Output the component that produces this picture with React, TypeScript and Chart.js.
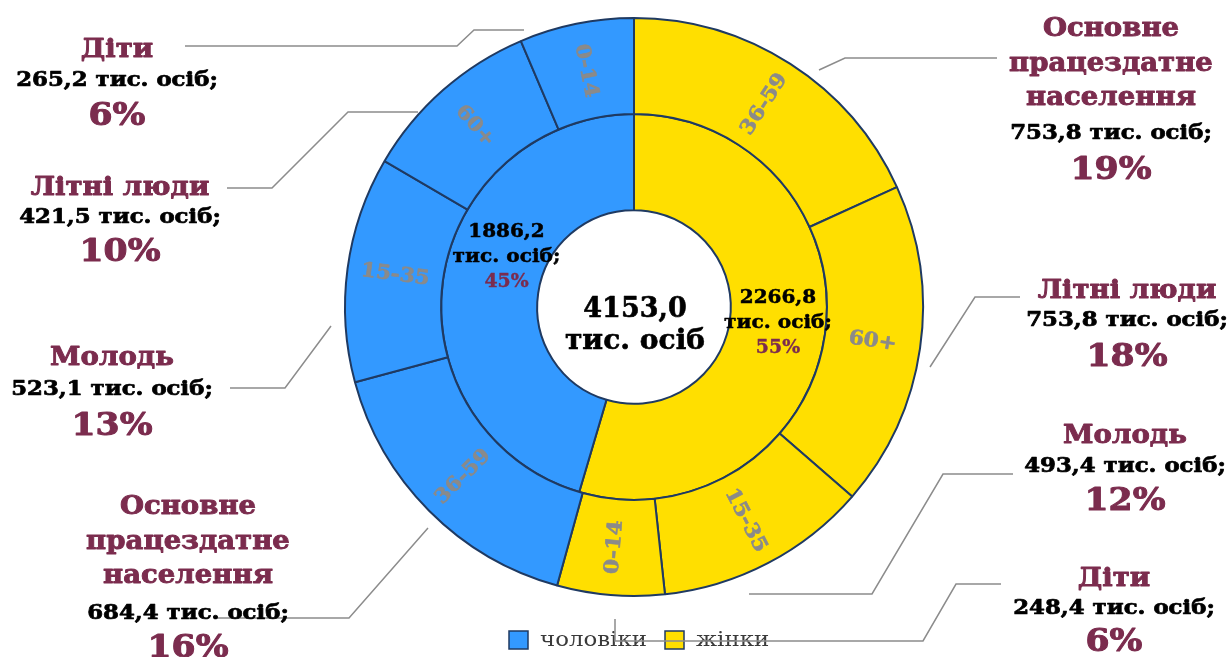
import React, { useEffect, useRef } from 'react';
import { Chart, registerables } from 'chart.js';

Chart.register(...registerables);

// ---------- data ----------
const sexLabels = ['жінки', 'чоловіки'];
const innerValues = [2266.8, 1886.2];
const innerPercents = ['55%', '45%'];
const totalValue = 4153.0;

const ageGroups = ['36-59', '60+', '15-35', '0-14', '36-59', '15-35', '60+', '0-14'];
const segmentSex = [0, 0, 0, 0, 1, 1, 1, 1];
const outerValues = [753.8, 753.8, 493.4, 248.4, 684.4, 523.1, 421.5, 265.2];
const groupNames = [
  'Основне працездатне населення',
  'Літні люди',
  'Молодь',
  'Діти',
  'Основне працездатне населення',
  'Молодь',
  'Літні люди',
  'Діти',
];
const groupPercents = ['19%', '18%', '12%', '6%', '16%', '13%', '10%', '6%'];
const legendOrder = [1, 0];

// ---------- styles / layout ----------
const YELLOW = '#FFDF00';
const BLUE = '#3399FF';
const NAVY = '#1F3A62';
const MAROON = '#7B2C4E';
const GREY_TEXT = '#8A8A8A';
const LINE = '#8C8C8C';
const SERIF = '"DejaVu Serif", serif';
const sexColors = [YELLOW, BLUE];

const fmt = (v: number) => v.toFixed(1).replace('.', ',');

// callout blocks: centre x, y of name lines, y of value, y of percent (layout, per outer segment)
const callouts: { x: number; names: number[]; value: number; pct: number }[] = [
  { x: 1111, names: [29, 64, 98], value: 134, pct: 171 },
  { x: 1127, names: [291], value: 321, pct: 358 },
  { x: 1125, names: [436], value: 467, pct: 502 },
  { x: 1114, names: [579], value: 609, pct: 643 },
  { x: 188, names: [507, 542, 576], value: 614, pct: 649 },
  { x: 112, names: [358], value: 390, pct: 427 },
  { x: 120, names: [188], value: 218, pct: 253 },
  { x: 117, names: [50], value: 81, pct: 117 },
];

const leaders: number[][][] = [
  [[819, 70], [845, 58], [997, 58]],
  [[1020, 297], [975, 297], [930, 367]],
  [[1013, 474], [943, 474], [872, 594], [749, 594]],
  [[1001, 584], [956, 584], [923, 641], [615, 641], [615, 619]],
  [[217, 618], [349, 618], [428, 528]],
  [[230, 388], [285, 388], [331, 326]],
  [[227, 188], [272, 188], [348, 112], [418, 112]],
  [[185, 46], [457, 46], [474, 30], [524, 30]],
];

const splitName = (name: string, n: number): string[] => {
  if (n === 1) return [name];
  return name.split(' ');
};

function drawText(
  ctx: CanvasRenderingContext2D,
  text: string,
  x: number,
  y: number,
  font: string,
  color: string,
  scaleX: number,
  weight: number,
  rot = 0
) {
  ctx.save();
  ctx.translate(x, y);
  if (rot) ctx.rotate(rot);
  ctx.scale(scaleX, 1);
  ctx.font = font;
  ctx.textAlign = 'center';
  ctx.textBaseline = 'middle';
  ctx.fillStyle = color;
  ctx.fillText(text, 0, 0);
  if (weight > 0) {
    ctx.strokeStyle = color;
    ctx.lineWidth = weight;
    ctx.lineJoin = 'round';
    ctx.strokeText(text, 0, 0);
  }
  ctx.restore();
}

const labelsPlugin = {
  id: 'customLabels',
  afterDraw(chart: any) {
    const ctx: CanvasRenderingContext2D = chart.ctx;
    const outer = chart.getDatasetMeta(0).data;
    const inner = chart.getDatasetMeta(1).data;
    const p0 = outer[0].getProps(['x', 'y'], true);
    const cx = p0.x;
    const cy = p0.y;
    const ox = cx - 634;
    const oy = cy - 307;
    ctx.save();

    // age labels on outer ring
    outer.forEach((arc: any, i: number) => {
      const { startAngle, endAngle, innerRadius, outerRadius } = arc.getProps(
        ['startAngle', 'endAngle', 'innerRadius', 'outerRadius'],
        true
      );
      const a = (startAngle + endAngle) / 2;
      const r = (innerRadius + outerRadius) / 2;
      let rot = a;
      while (rot > Math.PI) rot -= 2 * Math.PI;
      while (rot <= -Math.PI) rot += 2 * Math.PI;
      if (rot > Math.PI / 2) rot -= Math.PI;
      else if (rot < -Math.PI / 2) rot += Math.PI;
      drawText(
        ctx,
        ageGroups[i],
        cx + Math.cos(a) * r,
        cy + Math.sin(a) * r,
        `bold 20px ${SERIF}`,
        GREY_TEXT,
        1.08,
        0.6,
        rot
      );
    });

    // inner ring labels
    const innerFrac = [0.49, 0.58];
    inner.forEach((arc: any, i: number) => {
      const { startAngle, endAngle, innerRadius, outerRadius } = arc.getProps(
        ['startAngle', 'endAngle', 'innerRadius', 'outerRadius'],
        true
      );
      const a = startAngle + (endAngle - startAngle) * innerFrac[i];
      const r = (innerRadius + outerRadius) / 2 - (i === 1 ? 8 : 0);
      const x = cx + Math.cos(a) * r;
      const y = cy + Math.sin(a) * r;
      drawText(ctx, fmt(innerValues[i]), x, y - 25, `bold 19px ${SERIF}`, '#000', 1.05, 0.5);
      drawText(ctx, 'тис. осіб;', x, y, `bold 19px ${SERIF}`, '#000', 1.06, 0.5);
      drawText(ctx, innerPercents[i], x, y + 25, `bold 18px ${SERIF}`, MAROON, 1.05, 0.4);
    });

    // centre total
    drawText(ctx, fmt(totalValue), cx + 1, cy + 3, `bold 27px ${SERIF}`, '#000', 1.0, 0.6);
    drawText(ctx, 'тис. осіб', cx + 1, cy + 35, `bold 27px ${SERIF}`, '#000', 1.04, 0.6);

    // legend
    const legendFont = `21px ${SERIF}`;
    const legendScale = 1.09;
    ctx.font = legendFont;
    let lx = 509 + ox;
    const ly = 640 + oy;
    legendOrder.forEach((s) => {
      ctx.fillStyle = sexColors[s];
      ctx.fillRect(lx, ly - 9, 19, 18);
      ctx.strokeStyle = NAVY;
      ctx.lineWidth = 1.5;
      ctx.strokeRect(lx, ly - 9, 19, 18);
      ctx.font = legendFont;
      const w = ctx.measureText(sexLabels[s]).width * legendScale;
      drawText(ctx, sexLabels[s], lx + 31 + w / 2, ly + 1, legendFont, '#3A3A3A', legendScale, 0);
      lx += 31 + w + 18;
    });

    // leader lines
    ctx.strokeStyle = LINE;
    ctx.lineWidth = 1.5;
    leaders.forEach((pts) => {
      ctx.beginPath();
      pts.forEach(([x, y], k) => {
        if (k === 0) ctx.moveTo(x + ox, y + oy);
        else ctx.lineTo(x + ox, y + oy);
      });
      ctx.stroke();
    });

    // callouts
    callouts.forEach((c, i) => {
      const names = splitName(groupNames[i], c.names.length);
      names.forEach((n, k) =>
        drawText(ctx, n, c.x + ox, c.names[k] + oy, `bold 26px ${SERIF}`, MAROON, 1.06, 0.9)
      );
      drawText(
        ctx,
        `${fmt(outerValues[i])} тис. осіб;`,
        c.x + ox,
        c.value + oy,
        `bold 19.5px ${SERIF}`,
        '#000',
        1.17,
        0.7
      );
      drawText(ctx, groupPercents[i], c.x + ox, c.pct + oy, `bold 32px ${SERIF}`, MAROON, 1.08, 1.0);
    });

    ctx.restore();
  },
};

export default function App() {
  const ref = useRef<HTMLCanvasElement | null>(null);
  useEffect(() => {
    if (!ref.current) return;
    const chart = new Chart(ref.current, {
      type: 'doughnut',
      data: {
        labels: ageGroups,
        datasets: [
          {
            data: outerValues,
            backgroundColor: segmentSex.map((s) => sexColors[s]),
            borderColor: NAVY,
            borderWidth: 2,
          },
          {
            data: innerValues,
            backgroundColor: sexColors,
            borderColor: NAVY,
            borderWidth: 2,
          },
        ],
      },
      options: {
        responsive: false,
        animation: false,
        events: [],
        cutout: '33.5%',
        layout: { padding: { left: 344, right: 308, top: 17, bottom: 60 } },
        plugins: {
          legend: { display: false },
          tooltip: { enabled: false },
        },
      },
      plugins: [labelsPlugin],
    });
    return () => chart.destroy();
  }, []);
  return (
    <div style={{ position: 'absolute', left: 0, top: 0, width: 1232, height: 657, background: '#fff' }}>
      <canvas ref={ref} width={1232} height={657} style={{ width: 1232, height: 657, display: 'block' }} />
    </div>
  );
}
